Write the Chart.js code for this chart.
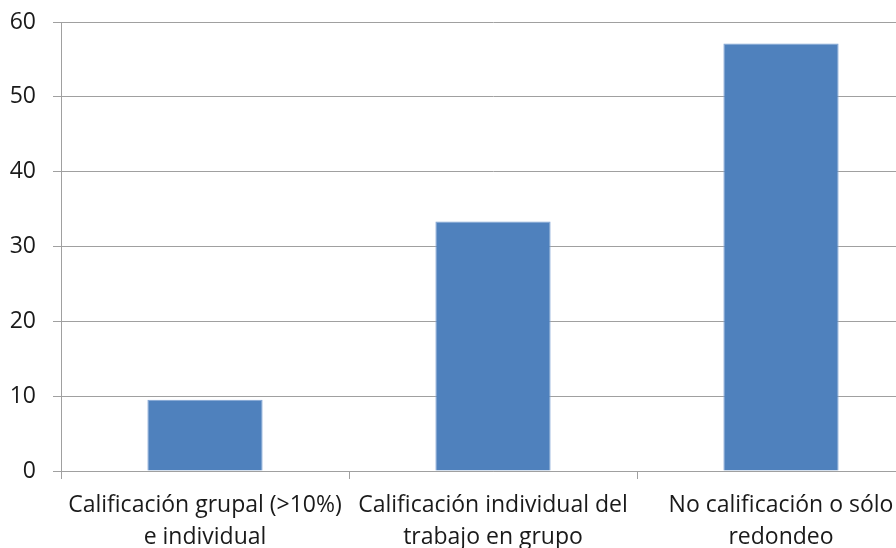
<!DOCTYPE html>
<html>
<head>
<meta charset="utf-8">
<script src="https://cdn.jsdelivr.net/npm/chart.js@4"></script>
<style>
  html, body { margin: 0; padding: 0; background: #fff; overflow: hidden; }
  #wrap { width: 896px; height: 548px; overflow: hidden; }
  canvas { display: block; }
</style>
</head>
<body>
<div id="wrap">
  <canvas id="chart" width="925" height="575"></canvas>
</div>
<script>
const categories = [
  ['Calificación grupal (>10%)', 'e individual'],
  ['Calificación individual del', 'trabajo en grupo'],
  ['No calificación o sólo', 'redondeo'],
]
const values = [9.52, 33.33, 57.14]
const yTicks = [0, 10, 20, 30, 40, 50, 60]

const gridGray = '#a0a0a0'
const font = { family: 'Open Sans', size: 23 }

new Chart(document.getElementById('chart'), {
  type: 'bar',
  data: {
    labels: categories,
    datasets: [
      {
        data: values,
        backgroundColor: '#4f81bd',
        borderColor: '#7ea2d4',
        borderWidth: 1,
        barPercentage: 0.4,
        categoryPercentage: 1,
      },
    ],
  },
  options: {
    responsive: false,
    animation: false,
    layout: { padding: { top: 22, left: 0, right: 0, bottom: 0 } },
    plugins: {
      legend: { display: false },
      tooltip: { enabled: false },
    },
    scales: {
      x: {
        offset: true,
        afterFit: (scale) => {
          scale.height = 104
          scale.paddingLeft = 0
          scale.paddingRight = 0
        },
        grid: {
          offset: true,
          drawOnChartArea: false,
          drawTicks: true,
          tickLength: 8,
          color: gridGray,
        },
        border: { color: gridGray },
        ticks: {
          color: '#1a1a1a',
          font: { ...font, lineHeight: 1.39 },
          padding: 10,
          maxRotation: 0,
          autoSkip: false,
        },
      },
      y: {
        min: 0,
        max: 60,
        afterBuildTicks: (axis) => {
          axis.ticks = yTicks.map((v) => ({ value: v }))
        },
        afterFit: (scale) => {
          scale.width = 61
          scale.paddingTop = 0
          scale.paddingBottom = 0
        },
        grid: {
          color: gridGray,
          tickLength: 8,
        },
        border: { color: gridGray },
        ticks: {
          color: '#1a1a1a',
          font,
          padding: 17,
        },
      },
    },
  },
})
</script>
</body>
</html>
